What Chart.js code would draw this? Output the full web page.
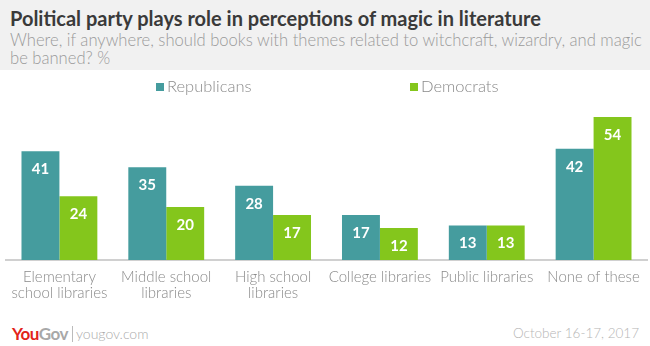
<!DOCTYPE html>
<html>
<head>
<meta charset="utf-8">
<script src="https://cdn.jsdelivr.net/npm/chart.js@4/dist/chart.umd.min.js"></script>
<style>
  body { margin: 0; width: 650px; height: 346px; background: #fff; overflow: hidden; position: relative; font-family: Lato, sans-serif; }
  #head { position: absolute; left: 0; top: 0; width: 650px; height: 70px; background: #f1f1f1; }
  #title { position: absolute; left: 10px; top: 6px; font-size: 20px; font-weight: bold; color: #3a3a3a; white-space: nowrap; }
  #sub { position: absolute; left: 10px; top: 31px; font-size: 16.6px; font-weight: 300; color: #9a9a9a; line-height: 18px; white-space: nowrap; }
  #wrap { position: absolute; left: 0; top: 70px; width: 650px; height: 240px; }
  #foot { position: absolute; left: 0; top: 322px; width: 650px; height: 24px; }
  #logo { position: absolute; left: 12px; top: 1px; font-size: 17px; font-weight: bold; letter-spacing: -0.5px; }
  #sep { position: absolute; left: 72px; top: 4px; width: 1px; height: 16px; background: #bbb; }
  #site { position: absolute; left: 76px; top: 3px; font-size: 14px; font-weight: 300; color: #aaa; }
  #date { position: absolute; right: 11px; top: 3px; font-size: 13.5px; font-weight: 300; color: #b5b5b5; }
</style>
</head>
<body>
<div id="head">
  <div id="title">Political party plays role in perceptions of magic in literature</div>
  <div id="sub">Where, if anywhere, should books with themes related to witchcraft, wizardry, and magic<br>be banned? %</div>
</div>
<div id="wrap"><canvas id="myChart" width="650" height="240"></canvas></div>
<div id="foot">
  <div id="logo"><span style="color:#e2231a">You</span><span style="color:#a8a8a8">Gov</span></div>
  <div id="sep"></div>
  <div id="site">yougov.com</div>
  <div id="date">October 16-17, 2017</div>
</div>
<script>
var categories = [
    ['Elementary', 'school libraries'],
    ['Middle school', 'libraries'],
    ['High school', 'libraries'],
    'College libraries',
    'Public libraries',
    'None of these'
];
var republicans = [41, 35, 28, 17, 13, 42];
var democrats = [24, 20, 17, 12, 13, 54];

var teal = '#459c9e';
var green = '#84c61c';

// legend drawn by hand, the items sit far apart
var legendPlugin = {
    id: 'spreadLegend',
    afterDraw: function(chart) {
        var ctx = chart.ctx;
        var xs = [156, 410];
        ctx.save();
        ctx.font = '300 16.5px Lato';
        ctx.textBaseline = 'middle';
        chart.data.datasets.forEach(function(ds, i) {
            ctx.fillStyle = ds.backgroundColor;
            ctx.fillRect(xs[i], 13, 8, 8);
            ctx.fillStyle = '#8a8a8a';
            ctx.fillText(ds.label, xs[i] + 11, 17);
        });
        ctx.restore();
    }
};

// white numbers near the top of each bar
var valuePlugin = {
    id: 'barValues',
    afterDatasetsDraw: function(chart) {
        var ctx = chart.ctx;
        ctx.save();
        ctx.font = 'bold 15px Lato';
        ctx.fillStyle = '#fff';
        ctx.textAlign = 'center';
        ctx.textBaseline = 'middle';
        chart.data.datasets.forEach(function(ds, i) {
            chart.getDatasetMeta(i).data.forEach(function(bar, j) {
                ctx.fillText(ds.data[j], bar.x, bar.y + 18);
            });
        });
        ctx.restore();
    }
};

var ctx = document.getElementById('myChart').getContext('2d');
var myChart = new Chart(ctx, {
    type: 'bar',
    data: {
        labels: categories,
        datasets: [{
            label: 'Republicans',
            data: republicans,
            backgroundColor: teal,
            borderWidth: 0
        }, {
            label: 'Democrats',
            data: democrats,
            backgroundColor: green,
            borderWidth: 0
        }]
    },
    options: {
        responsive: false,
        maintainAspectRatio: false,
        animation: false,
        categoryPercentage: 0.71,
        barPercentage: 1,
        layout: { padding: { top: 31, left: 6, right: 3, bottom: 0 } },
        plugins: {
            legend: { display: false },
            tooltip: { enabled: false }
        },
        scales: {
            x: {
                grid: { display: false, drawTicks: false },
                border: { color: '#d0d0d0', width: 2 },
                ticks: {
                    color: '#8a8a8a',
                    font: { family: 'Lato', size: 15, weight: '300', lineHeight: 1.07 },
                    padding: 9,
                    maxRotation: 0,
                    autoSkip: false
                }
            },
            y: {
                display: false,
                min: 0,
                max: 60
            }
        }
    },
    plugins: [legendPlugin, valuePlugin]
});
</script>
</body>
</html>
